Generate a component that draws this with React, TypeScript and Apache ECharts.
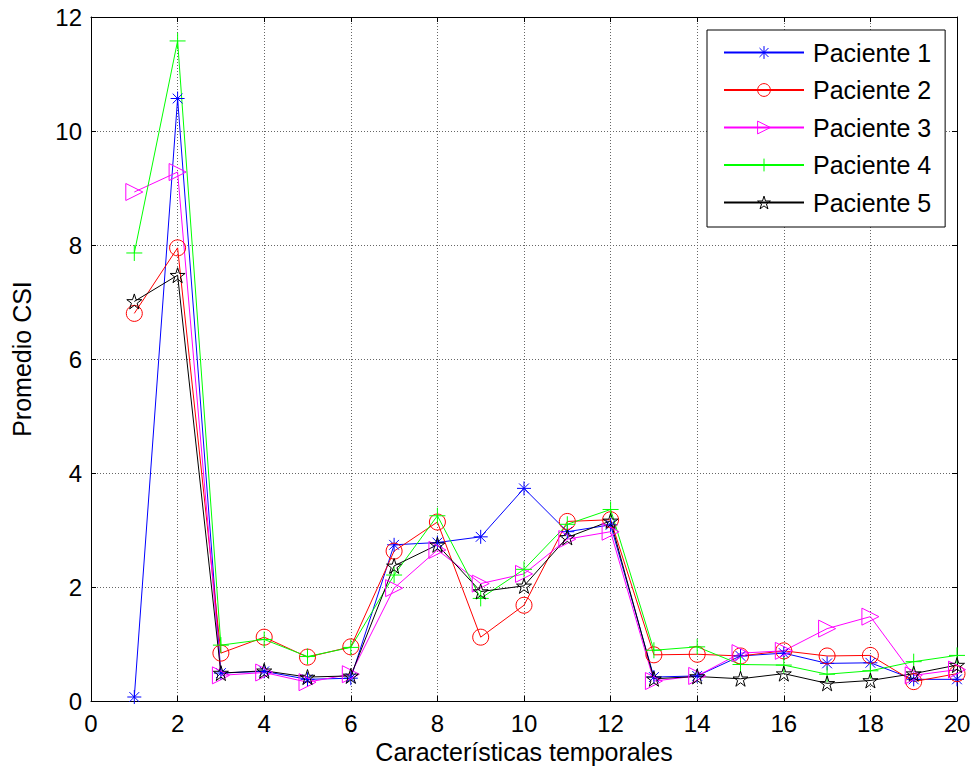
import React, { useEffect, useRef } from "react";
import * as echarts from "echarts";

const xValues = [1, 2, 3, 4, 5, 6, 7, 8, 9, 10, 11, 12, 13, 14, 15, 16, 17, 18, 19, 20];
const paciente1 = [0.07, 10.57, 0.49, 0.52, 0.38, 0.40, 2.74, 2.78, 2.88, 3.73, 2.97, 3.09, 0.42, 0.44, 0.79, 0.84, 0.66, 0.67, 0.38, 0.38];
const paciente2 = [6.80, 7.95, 0.84, 1.12, 0.77, 0.95, 2.63, 3.14, 1.12, 1.68, 3.15, 3.18, 0.81, 0.82, 0.79, 0.88, 0.79, 0.80, 0.34, 0.48];
const paciente3 = [8.93, 9.28, 0.45, 0.50, 0.33, 0.47, 1.98, 2.65, 2.06, 2.23, 2.84, 2.97, 0.35, 0.44, 0.84, 0.88, 1.27, 1.48, 0.45, 0.55];
const paciente4 = [7.86, 11.58, 0.98, 1.08, 0.78, 0.94, 2.21, 3.25, 1.80, 2.31, 3.10, 3.36, 0.89, 0.95, 0.64, 0.63, 0.47, 0.53, 0.69, 0.80];
const paciente5 = [7.01, 7.47, 0.49, 0.53, 0.42, 0.44, 2.37, 2.74, 1.92, 2.02, 2.87, 3.16, 0.39, 0.43, 0.39, 0.48, 0.31, 0.36, 0.48, 0.63];
const seriesNames = ["Paciente 1", "Paciente 2", "Paciente 3", "Paciente 4", "Paciente 5"];
const seriesData = [paciente1, paciente2, paciente3, paciente4, paciente5];
const seriesColors = ["#0000ff", "#ff0000", "#ff00ff", "#00ff00", "#000000"];

const ASTERISK = "path://M0,-1L0,1M-1,0L1,0M-0.7,-0.7L0.7,0.7M-0.7,0.7L0.7,-0.7";
const PLUS = "path://M0,-1L0,1M-1,0L1,0";
const STAR = "path://M0,-1L0.2245,-0.309L0.951,-0.309L0.363,0.118L0.588,0.809L0,0.382L-0.588,0.809L-0.363,0.118L-0.951,-0.309L-0.2245,-0.309Z";
const TRI_RIGHT = "path://M0,0L0.75,0.5L0,1Z";
const seriesSymbols = [ASTERISK, "circle", TRI_RIGHT, PLUS, STAR];
const seriesSymbolSizes = [14, 16, 17, 16, 15];

const FONT = "'Liberation Sans', Arial, sans-serif";

export default function App() {
  const ref = useRef<HTMLDivElement>(null);
  useEffect(() => {
    if (!ref.current) return;
    const chart = echarts.init(ref.current, null, { renderer: "svg" });
    const axisCommon = {
      axisLine: { show: true, onZero: false, lineStyle: { color: "#000", width: 1 } },
      axisTick: { show: true, inside: true, length: 5, lineStyle: { color: "#000" } },
    };
    const gridLine = { show: true, lineStyle: { color: "#666", type: [1, 2], width: 1 } };
    chart.setOption({
      animation: false,
      backgroundColor: "#fff",
      textStyle: { fontFamily: FONT },
      grid: { left: 91, right: 17, top: 17, bottom: 71 },
      legend: {
        orient: "vertical",
        left: 707,
        top: 30,
        padding: [10, 14, 12, 16],
        itemWidth: 80,
        itemHeight: 16,
        itemGap: 12.5,
        borderColor: "#000",
        borderWidth: 1,
        borderRadius: 0,
        backgroundColor: "#fff",
        textStyle: { fontSize: 25, lineHeight: 25, color: "#000", fontFamily: FONT, padding: [0, 0, 0, 4] },
        data: seriesNames.map((name, i) => ({
          name,
          itemStyle: { color: "rgba(0,0,0,0)", borderColor: seriesColors[i], borderWidth: 1 },
        })),
      },
      xAxis: [
        {
          type: "value",
          min: 0,
          max: 20,
          interval: 2,
          position: "bottom",
          ...axisCommon,
          axisLabel: { fontSize: 24, color: "#000", margin: 10, fontFamily: FONT },
          splitLine: gridLine,
          name: "Características temporales",
          nameLocation: "middle",
          nameGap: 36,
          nameTextStyle: { fontSize: 25, color: "#000", fontFamily: FONT },
        },
        {
          type: "value",
          min: 0,
          max: 20,
          interval: 2,
          position: "top",
          ...axisCommon,
          axisLabel: { show: false },
          splitLine: { show: false },
        },
      ],
      yAxis: [
        {
          type: "value",
          min: 0,
          max: 12,
          interval: 2,
          position: "left",
          ...axisCommon,
          axisLabel: { fontSize: 24, color: "#000", margin: 9, fontFamily: FONT },
          splitLine: gridLine,
          name: "Promedio CSI",
          nameLocation: "middle",
          nameGap: 57,
          nameTextStyle: { fontSize: 25, color: "#000", fontFamily: FONT },
        },
        {
          type: "value",
          min: 0,
          max: 12,
          interval: 2,
          position: "right",
          ...axisCommon,
          axisLabel: { show: false },
          splitLine: { show: false },
        },
      ],
      series: seriesNames.map((name, i) => ({
        name,
        type: "line",
        xAxisIndex: 0,
        yAxisIndex: 0,
        data: xValues.map((x, j) => [x, seriesData[i][j]]),
        symbol: seriesSymbols[i],
        symbolSize: seriesSymbolSizes[i],
        showSymbol: true,
        color: seriesColors[i],
        lineStyle: { color: seriesColors[i], width: 1 },
        itemStyle: { color: "rgba(0,0,0,0)", borderColor: seriesColors[i], borderWidth: 1 },
        emphasis: { disabled: true },
      })),
    });
    return () => chart.dispose();
  }, []);
  return (
    <div
      ref={ref}
      style={{ position: "fixed", left: 0, top: 0, width: 974, height: 772 }}
    />
  );
}
